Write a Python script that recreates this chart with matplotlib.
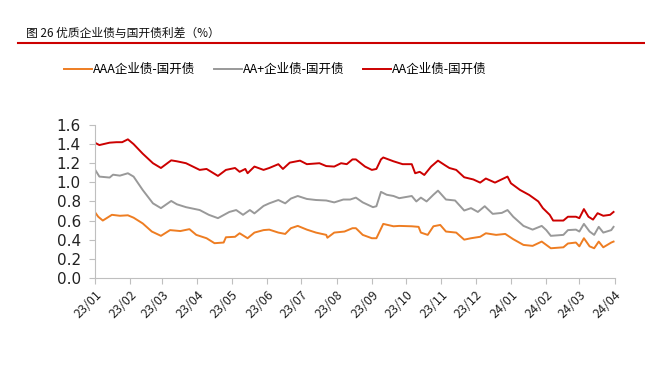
import numpy as np
import pandas as pd
import matplotlib
matplotlib.use("Agg")
import matplotlib.pyplot as plt
import matplotlib.dates as mdates

plt.rcParams['font.family'] = ['Noto Sans CJK SC', 'DejaVu Sans']

start = pd.Timestamp("2023-01-01")

# day offsets from 2023-01-01 and spreads (%)
aaa_days = [0, 3, 7, 15, 22, 29, 34, 42, 50, 58, 66, 75, 83, 89, 98, 105, 113,
            115, 123, 127, 134, 140, 148, 153, 161, 167, 172, 178, 186, 194, 203,
            204, 210, 219, 226, 229, 235, 243, 247, 253, 262, 267, 278, 284, 286,
            292, 297, 303, 308, 317, 324, 330, 338, 343, 352, 360, 367, 376, 384,
            392, 396, 400, 411, 415, 422, 425, 429, 434, 438, 442, 446, 453, 455]
aaa_vals = [0.69, 0.64, 0.60, 0.66, 0.65, 0.655, 0.63, 0.57, 0.485, 0.44, 0.50, 0.49, 0.51, 0.45, 0.415, 0.363, 0.37,
            0.425, 0.43, 0.467, 0.415, 0.474, 0.50, 0.505, 0.474, 0.46, 0.52, 0.544, 0.505, 0.474, 0.45,
            0.42, 0.474, 0.485, 0.52, 0.52, 0.45, 0.415, 0.415, 0.565, 0.54, 0.544, 0.54, 0.534, 0.474,
            0.45, 0.54, 0.554, 0.485, 0.474, 0.40, 0.415, 0.43, 0.467, 0.45, 0.46, 0.405, 0.345, 0.335,
            0.38, 0.345, 0.31, 0.32, 0.36, 0.37, 0.33, 0.415, 0.33, 0.31, 0.38, 0.32, 0.37, 0.38]

aap_days = [0, 4, 13, 16, 22, 29, 34, 42, 51, 58, 67, 72, 80, 92, 100, 108,
            118, 124, 130, 136, 140, 148, 153, 161, 167, 172, 178, 186, 194, 203,
            210, 218, 224, 229, 235, 244, 247, 251, 256, 262, 267, 278, 282, 286,
            291, 297, 301, 308, 316, 324, 330, 336, 342, 349, 357, 362, 367, 376,
            384, 392, 396, 400, 411, 415, 422, 425, 429, 434, 438, 442, 446, 453, 455]
aap_vals = [1.137, 1.06, 1.05, 1.08, 1.07, 1.095, 1.06, 0.92, 0.78, 0.73, 0.805, 0.77, 0.74, 0.71, 0.66, 0.625,
            0.69, 0.71, 0.66, 0.71, 0.675, 0.753, 0.78, 0.815, 0.78, 0.83, 0.857, 0.826, 0.815, 0.81,
            0.79, 0.82, 0.82, 0.84, 0.79, 0.74, 0.75, 0.90, 0.87, 0.857, 0.834, 0.857, 0.80, 0.84,
            0.80, 0.87, 0.913, 0.82, 0.81, 0.705, 0.73, 0.69, 0.75, 0.67, 0.68, 0.71, 0.64, 0.544,
            0.505, 0.544, 0.50, 0.44, 0.45, 0.50, 0.505, 0.485, 0.565, 0.485, 0.45, 0.534, 0.474, 0.50, 0.534]

aa_days = [0, 4, 13, 19, 24, 29, 34, 42, 51, 58, 67, 72, 80, 92, 98, 108,
           115, 123, 127, 132, 134, 140, 148, 153, 161, 165, 171, 180, 186, 197,
           203, 210, 216, 221, 226, 229, 237, 243, 247, 251, 253, 262, 270, 278,
           281, 285, 289, 295, 301, 307, 311, 317, 324, 332, 338, 343, 351, 355,
           362, 365, 373, 381, 389, 393, 399, 402, 411, 415, 422, 425, 429, 433,
           437, 441, 446, 452, 455]
aa_vals = [1.415, 1.39, 1.415, 1.42, 1.42, 1.45, 1.40, 1.30, 1.20, 1.15, 1.23, 1.22, 1.20, 1.13, 1.14, 1.067,
           1.13, 1.15, 1.11, 1.14, 1.095, 1.165, 1.13, 1.15, 1.19, 1.14, 1.206, 1.227, 1.19, 1.20,
           1.17, 1.165, 1.20, 1.19, 1.24, 1.24, 1.165, 1.13, 1.14, 1.24, 1.26, 1.22, 1.19, 1.19,
           1.095, 1.11, 1.077, 1.165, 1.227, 1.18, 1.15, 1.13, 1.053, 1.03, 0.997, 1.04, 0.997, 1.02,
           1.06, 0.99, 0.92, 0.868, 0.80, 0.73, 0.66, 0.60, 0.60, 0.64, 0.64, 0.625, 0.72, 0.64,
           0.61, 0.677, 0.65, 0.66, 0.69]

labels = ["AAA企业债-国开债", "AA+企业债-国开债", "AA企业债-国开债"]
colors = ["#ee7d22", "#999999", "#cc0000"]


def to_dates(days):
    return start + pd.to_timedelta(days, unit="D")


fig = plt.figure(figsize=(6.45, 3.72), dpi=100)
ax = fig.add_axes([0.147, 0.253, 0.806, 0.411])

series = [(aaa_days, aaa_vals), (aap_days, aap_vals), (aa_days, aa_vals)]
for (d, v), lab, c in zip(series, labels, colors):
    ax.plot(to_dates(d), v, color=c, lw=1.4, label=lab)

yt = np.arange(0, 1.61, 0.2)
ax.set_ylim(0, 1.6)
ax.set_yticks(yt)
ax.set_yticklabels(["%.1f" % t for t in yt], fontsize=11, family="DejaVu Sans")
ax.set_xlim(pd.Timestamp("2023-01-01"), pd.Timestamp("2024-04-01"))
ax.xaxis.set_major_locator(mdates.MonthLocator())
ax.xaxis.set_major_formatter(mdates.DateFormatter("%y/%m"))
for t in ax.get_xticklabels():
    t.set_rotation(45)
    t.set_ha("right")
    t.set_rotation_mode("anchor")
    t.set_fontsize(9)

for s in ["top", "right"]:
    ax.spines[s].set_visible(False)
for s in ["left", "bottom"]:
    ax.spines[s].set_color("#bfbfbf")
ax.tick_params(axis="both", colors="#bfbfbf", labelcolor="#222222", length=4)
ax.tick_params(axis="y", pad=6)

ax.legend(loc="lower left", bbox_to_anchor=(-0.08, 1.245), ncol=3, frameon=False,
          fontsize=9, handlelength=2.2, handletextpad=0.1, columnspacing=1.5)

fig.text(0.04, 0.909, "图 26 优质企业债与国开债利差（%）", fontsize=8.5,
         color="#111111", va="center")
fig.add_artist(plt.Line2D([0.028, 1.0], [0.884, 0.884], color="#cc0000", lw=1.5))

fig.savefig("out.png", dpi=100)
